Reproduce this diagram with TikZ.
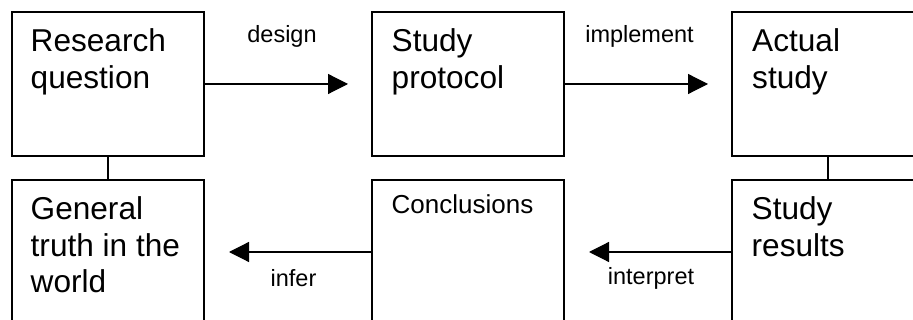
\documentclass[tikz,border=0pt]{standalone}
\usepackage{fontspec}
\setmainfont{Liberation Sans}
\usetikzlibrary{arrows.meta,calc}
\newcommand{\stk}[1]{\vtop{\def\\{\egroup\hbox\bgroup}\hbox\bgroup#1\egroup}}
\begin{document}
\begin{tikzpicture}[x=1pt,y=-1pt,
  box/.style={draw, line width=1.5pt, minimum width=192pt, minimum height=144pt,
    inner sep=0pt, outer sep=0pt, anchor=north west},
  bigtxt/.style={font=\fontsize{31.6}{36.5}\selectfont, inner sep=0pt, anchor=base west},
  midtxt/.style={font=\fontsize{26}{30}\selectfont, inner sep=0pt, anchor=base west},
  lbl/.style={font=\fontsize{23.5}{27}\selectfont, inner sep=0pt, anchor=base},
  conn/.style={line width=1.2pt},
  arr/.style={line width=1.2pt, -{Triangle[length=20pt,width=20pt]}}]
\clip (0,0) rectangle (913,320);
% boxes
\node[box] (rq) at (12,12) {};
\node[box] (sp) at (372,12) {};
\node[box] (as) at (732,12) {};
\node[box] (gt) at (12,180) {};
\node[box] (cc) at (372,180) {};
\node[box] (sr) at (732,180) {};
% box texts
\node[bigtxt] (rqt) at ($(rq.north west)+(18.5,40)$) {\stk{Research\\question}};
\node[bigtxt] (spt) at ($(sp.north west)+(19.5,40)$) {\stk{Study\\protocol}};
\node[bigtxt] (ast) at ($(as.north west)+(20,40)$) {\stk{Actual\\study}};
\node[bigtxt] (gtt) at ($(gt.north west)+(18.5,40)$) {\stk{General\\truth in the\\world}};
\node[midtxt] (cct) at ($(cc.north west)+(19.5,34)$) {Conclusions};
\node[bigtxt] (srt) at ($(sr.north west)+(19.5,40)$) {\stk{Study\\results}};
% vertical connectors
\draw[conn] (rq.south) -- (gt.north);
\draw[conn] (as.south) -- (sr.north);
% arrows
\coordinate (a1) at ($(sp.west)+(-24,0)$);
\coordinate (a2) at ($(as.west)+(-24,0)$);
\coordinate (a3) at ($(cc.east)+(25,0)$);
\coordinate (a4) at ($(gt.east)+(25,0)$);
\draw[arr] (rq.east) -- (a1);
\draw[arr] (sp.east) -- (a2);
\draw[arr] (sr.west) -- (a3);
\draw[arr] (cc.west) -- (a4);
% labels
\node[lbl] (l1) at (282,43) {design};
\node[lbl] (l2) at (639.5,43) {implement};
\node[lbl] (l3) at (293.5,287) {infer};
\node[lbl] (l4) at (651,285) {interpret};
\end{tikzpicture}
\end{document}
